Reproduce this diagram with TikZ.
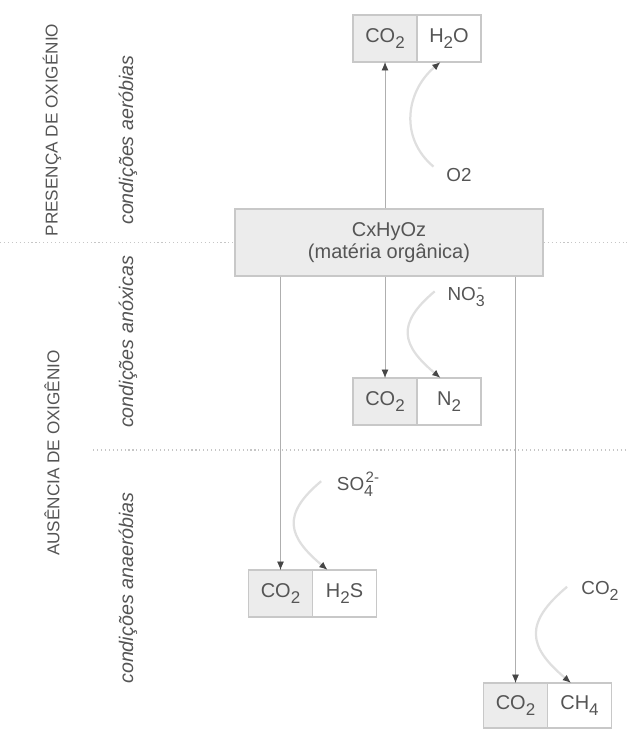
\documentclass[tikz,border=0pt]{standalone}
\usepackage{fontspec}
\setmainfont{Liberation Sans}
\usepackage{graphicx}
\usetikzlibrary{arrows.meta}
\usetikzlibrary{positioning}
\definecolor{txtgray}{RGB}{85,85,85}
\definecolor{linegray}{RGB}{175,175,175}
\definecolor{boxgray}{RGB}{200,200,200}
\definecolor{cellfill}{RGB}{236,236,236}
\definecolor{tipgray}{RGB}{70,70,70}
\newcommand{\chsub}[1]{\raisebox{-0.55ex}{\scalebox{0.85}{#1}}}
\newcommand{\chsup}[1]{\raisebox{0.85ex}{\scalebox{0.8}{#1}}}
\newcommand{\chion}[2]{\rlap{\chsub{#1}}\chsup{\kern0.1em#2}}

\begin{document}
\begin{tikzpicture}[x=0.025cm, y=-0.025cm,
  txt/.style={text=txtgray, font=\fontsize{14.2}{16}\selectfont, inner sep=1pt},
  orgbox/.style={txt, draw=boxgray, fill=cellfill, line width=1pt, minimum width=7.7cm, minimum height=1.675cm, align=center},
  cell/.style={txt, draw=boxgray, line width=1pt, minimum width=1.6cm, minimum height=1.175cm, outer sep=0pt, inner sep=0pt},
  gascell/.style={cell, fill=cellfill},
  side/.style={txt, rotate=90, font=\fontsize{12.2}{14}\selectfont},
  sidecond/.style={txt, rotate=90, font=\fontsize{14}{16}\selectfont\itshape},
  reagent/.style={txt, font=\fontsize{13.4}{15}\selectfont},
  flow/.style={draw=linegray, line width=0.6pt, -{Latex[length=6pt, width=5pt, color=tipgray]}},
  supply/.style={draw=gray!25, line width=1.6pt, -{Latex[length=6pt, width=5pt, color=tipgray]}, out=220, in=140, looseness=1.5},
  sepline/.style={draw=gray!45, dotted, line width=0.8pt}]
  \useasboundingbox (0,0) rectangle (627,740);

  % materia organica
  \node[orgbox] (mo) at (389,242.5) {CxHyOz\\(matéria orgânica)};

  % faixas laterais
  \node[side] (pres) at (52,130) {PRESENÇA DE OXIGÉNIO};
  \node[side] (aus) at (52,453) {AUSÊNCIA DE OXIGÊNIO};
  \node[sidecond] (aer) at (128,140) {condições aeróbias};
  \node[sidecond] (anox) at (128,342) {condições anóxicas};
  \node[sidecond] (anaer) at (128,588) {condições anaeróbias};
  \draw[sepline] (0,242.5) -- (mo.west);
  \draw[sepline] (mo.east) -- (627,242.5);
  \draw[sepline] (93,450) -- (627,450);

  % aerobias
  \node[gascell] (co2aer) at (385,38.5) {CO\chsub{2}};
  \node[cell, right=0pt of co2aer] (h2o) {H\chsub{2}O};
  \node[reagent] (o2) at (459,175) {O2};

  % anoxicas
  \node[gascell] (co2anox) at (385,401.5) {CO\chsub{2}};
  \node[cell, right=0pt of co2anox] (n2) {N\chsub{2}};
  \node[reagent] (no3) at (465,297) {NO\chion{3}{-}};

  % anaerobias
  \node[gascell] (co2sulf) at (280.5,593.5) {CO\chsub{2}};
  \node[cell, right=0pt of co2sulf] (h2s) {H\chsub{2}S};
  \node[reagent] (so4) at (358,484) {SO\chion{4}{2-}};

  \node[gascell, minimum height=1.125cm] (co2meth) at (515.5,705.5) {CO\chsub{2}};
  \node[cell, minimum height=1.125cm, right=0pt of co2meth] (ch4) {CH\chsub{4}};
  \node[reagent] (co2in) at (600,591) {CO\chsub{2}};

  % fluxos
  \draw[flow] (mo.north -| co2aer.south) -- (co2aer.south);
  \draw[flow] (mo.south -| co2anox.north) -- (co2anox.north);
  \draw[flow] (mo.south -| co2sulf.north) -- (co2sulf.north);
  \draw[flow] (mo.south -| co2meth.north) -- (co2meth.north);

  \draw[supply, out=140, in=220, looseness=1.1] ([xshift=-8pt]o2.north west) to ([xshift=-6pt]h2o.south);
  \draw[supply] ([xshift=-8pt,yshift=4pt]no3.west) to ([xshift=-6pt]n2.north);
  \draw[supply] ([xshift=-10pt,yshift=2pt]so4.west) to ([xshift=-12pt]h2s.north);
  \draw[supply] ([xshift=-9pt,yshift=3pt]co2in.west) to ([xshift=-6pt]ch4.north);
\end{tikzpicture}
\end{document}
